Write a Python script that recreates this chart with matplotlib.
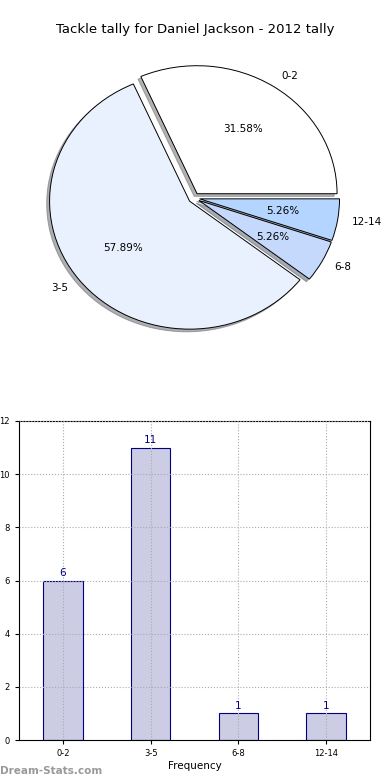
import matplotlib
matplotlib.use('Agg')
import matplotlib.pyplot as plt

# Data
categories = ['0-2', '3-5', '6-8', '12-14']
counts = [6, 11, 1, 1]
pie_colors = ['#ffffff', '#eaf1fe', '#c5d9fc', '#b4d5ff']

fig = plt.figure(figsize=(3.9, 7.8), dpi=100)

# Pie chart (slightly squashed, like the original)
cx, cy = 194, 198
rx, ry = 140, 128
axp = fig.add_axes([(cx - 1.1*rx)/390, 1 - (cy + 1.1*ry)/780, 2.2*rx/390, 2.2*ry/780])
axp.pie(counts, labels=categories, colors=pie_colors, explode=[0.04]*4,
        autopct='%1.2f%%', shadow={'ox': -0.015, 'oy': -0.015, 'shade': 0.6},
        startangle=0, counterclock=True,
        wedgeprops=dict(edgecolor='black', linewidth=0.7),
        textprops=dict(fontsize=7.5))
axp.set_aspect('auto')
axp.set_xlim(-1.1, 1.1)
axp.set_ylim(-1.1, 1.1)
fig.text(0.5, 1 - 30/780, 'Tackle tally for Daniel Jackson - 2012 tally',
         ha='center', va='center', fontsize=9.5)

# Bar chart
axb = fig.add_axes([19/390, 40/780, 351/390, 319/780])
x = range(len(categories))
axb.bar(x, counts, width=0.45, color='#cccce4', edgecolor='#000080', linewidth=0.8, zorder=2)
for i, c in zip(x, counts):
    axb.text(i, c + 0.1, str(c), ha='center', va='bottom', color='#000080', fontsize=7.5)
axb.set_xlim(-0.5, 3.5)
axb.set_ylim(0, 12)
axb.set_xticks(list(x))
axb.set_xticklabels(categories)
axb.set_yticks(range(0, 13, 2))
axb.tick_params(labelsize=6, length=3)
axb.grid(True, linestyle=':', color='#aaaaaa', linewidth=0.8, zorder=0)
axb.set_axisbelow(False)
axb.set_xlabel('Frequency', fontsize=7.5, labelpad=2)
axb.set_ylabel('Number of Games', fontsize=7.5, labelpad=2)

fig.text(0.0, 1 - 771/780, 'Dream-Stats.com', fontsize=7.5, color='#999999',
         fontweight='bold', ha='left', va='center')

fig.savefig('out.png', dpi=100)
